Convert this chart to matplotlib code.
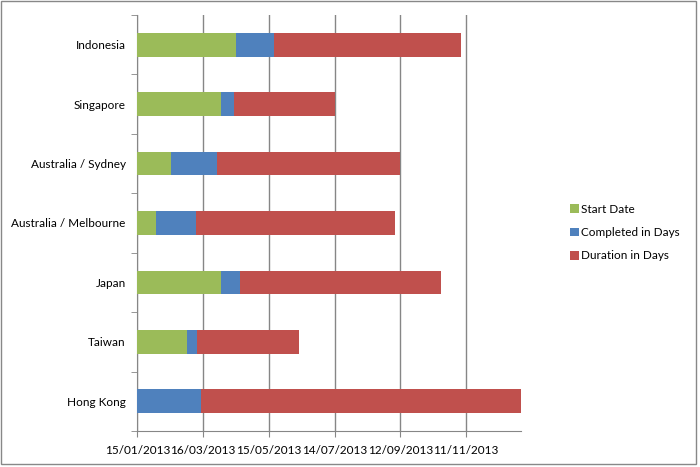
import matplotlib.pyplot as plt
import matplotlib.dates as mdates
from matplotlib.patches import Rectangle
from datetime import datetime, timedelta

plt.rcParams['font.family'] = ['Lato', 'DejaVu Sans']

# data
regions = ['Indonesia', 'Singapore', 'Australia / Sydney', 'Australia / Melbourne',
           'Japan', 'Taiwan', 'Hong Kong']
start_dates = ['15/04/2013', '01/04/2013', '15/02/2013', '01/02/2013',
               '01/04/2013', '01/03/2013', '15/01/2013']
completed_days = [35, 12, 42, 36, 18, 9, 58]
duration_days = [170, 92, 167, 182, 183, 93, 292]

axis_min = datetime(2013, 1, 15)
axis_max = datetime(2013, 12, 31)

green = '#9BBB59'
blue = '#4F81BD'
red = '#C0504D'
grid_col = '#868686'

fig = plt.figure(figsize=(7, 4.67), dpi=100)
ax = fig.add_axes([0.1964, 0.0771, 0.5479, 0.8908])

starts = [datetime.strptime(s, '%d/%m/%Y') for s in start_dates]
y = list(range(len(regions)))[::-1]

base = mdates.date2num(axis_min)
start_num = [mdates.date2num(s) for s in starts]
green_w = [s - base for s in start_num]
blue_left = start_num
red_left = [s + c for s, c in zip(start_num, completed_days)]

h = 0.4
ax.barh(y, green_w, left=base, height=h, color=green, label='Start Date', zorder=3)
ax.barh(y, completed_days, left=blue_left, height=h, color=blue,
        label='Completed in Days', zorder=3)
ax.barh(y, duration_days, left=red_left, height=h, color=red,
        label='Duration in Days', zorder=3)

ax.set_xlim(base, mdates.date2num(axis_max))
ax.set_ylim(-0.5, len(regions) - 0.5)

ticks = [axis_min + timedelta(days=60 * i) for i in range(6)]
ax.set_xticks([mdates.date2num(t) for t in ticks])
ax.xaxis.set_major_formatter(mdates.DateFormatter('%d/%m/%Y'))
ax.grid(axis='x', color=grid_col, linewidth=1, zorder=0)

ax.set_yticks(y)
ax.set_yticklabels(regions)
ax.set_yticks([i + 0.5 for i in range(-1, len(regions))], minor=True)
ax.tick_params(axis='y', which='major', length=0, pad=8.5, labelsize=8.5)
ax.tick_params(axis='y', which='minor', length=4, color=grid_col, direction='out')
ax.tick_params(axis='x', length=4, color=grid_col, direction='out', pad=6, labelsize=8.5)

for side in ['top', 'right']:
    ax.spines[side].set_visible(False)
for side in ['left', 'bottom']:
    ax.spines[side].set_color(grid_col)

handles, labels = ax.get_legend_handles_labels()
fig.legend(handles, labels, loc='upper left', bbox_to_anchor=(0.808, 0.574),
           frameon=False, fontsize=8.5, handlelength=0.75, handleheight=0.75,
           handletextpad=0.15, labelspacing=1.05, borderaxespad=0)

fig.patches.append(Rectangle((1 / 700, 1 - 464 / 467), 695 / 700, 463 / 467,
                             transform=fig.transFigure, fill=False,
                             edgecolor='#888888', linewidth=1))

fig.savefig('out.png', dpi=100)
